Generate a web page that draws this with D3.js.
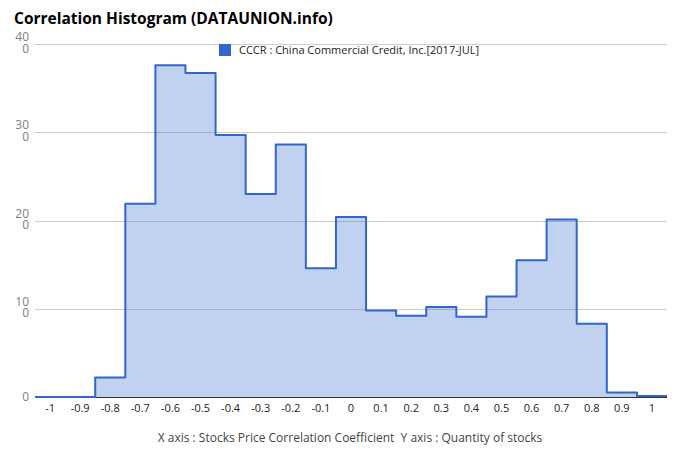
<!DOCTYPE html>
<html>
<head>
<meta charset="utf-8">
<script src="https://cdn.jsdelivr.net/npm/d3@7/dist/d3.min.js"></script>
<style>
  html, body { margin: 0; padding: 0; background: #fff; }
  svg { display: block; font-family: "Open Sans", "Noto Sans", sans-serif; }
</style>
</head>
<body>
<svg id="chart" width="680" height="462"></svg>
<script>
const bins = [-1, -0.9, -0.8, -0.7, -0.6, -0.5, -0.4, -0.3, -0.2, -0.1, 0, 0.1, 0.2, 0.3, 0.4, 0.5, 0.6, 0.7, 0.8, 0.9, 1];
const counts = [0, 0, 22, 219, 376, 367, 297, 230, 286, 146, 204, 98, 92, 102, 91, 114, 155, 201, 83, 5, 1];
const xTickLabels = ["-1", "-0.9", "-0.8", "-0.7", "-0.6", "-0.5", "-0.4", "-0.3", "-0.2", "-0.1", "0", "0.1", "0.2", "0.3", "0.4", "0.5", "0.6", "0.7", "0.8", "0.9", "1"];
const yTicks = [0, 100, 200, 300, 400];
const seriesName = "CCCR : China Commercial Credit, Inc.[2017-JUL]";
const titleText = "Correlation Histogram (DATAUNION.info)";
const captionText = "X axis : Stocks Price Correlation Coefficient  Y axis : Quantity of stocks";

const svg = d3.select("#chart");
const pLeft = 35, pRight = 667, pTop = 44, pBottom = 397;
const x = d3.scaleLinear().domain([-1.05, 1.05]).range([pLeft, pRight]);
const y = d3.scaleLinear().domain([0, 400]).range([pBottom, pTop]);

// title
svg.append("text").attr("x", 14).attr("y", 24)
  .attr("font-size", 15.5).attr("font-weight", "bold").attr("fill", "#000")
  .text(titleText);

// gridlines
svg.append("g").selectAll("line").data(yTicks.filter(d => d > 0)).join("line")
  .attr("x1", pLeft).attr("x2", pRight)
  .attr("y1", d => Math.round(y(d)) + 0.5).attr("y2", d => Math.round(y(d)) + 0.5)
  .attr("stroke", "#cccccc").attr("stroke-width", 1);

// y labels (wrapped like the reference)
const yl = svg.append("g").attr("font-size", 12).attr("fill", "#808080").attr("text-anchor", "end");
yTicks.forEach(t => {
  const s = String(t);
  if (s.length > 2) {
    yl.append("text").attr("x", 29).attr("y", y(t) - 3).text(s.slice(0, 2));
    yl.append("text").attr("x", 29).attr("y", y(t) + 8.5).text(s.slice(2));
  } else {
    yl.append("text").attr("x", 29).attr("y", y(t) + 4).text(s);
  }
});

// step data
const stepData = bins.map((b, i) => ({ x: b - 0.05, v: counts[i] }));
stepData.push({ x: 1.05, v: counts[counts.length - 1] });

const area = d3.area().x(d => x(d.x)).y0(y(0)).y1(d => y(d.v)).curve(d3.curveStepAfter);
const line = d3.line().x(d => x(d.x)).y(d => y(d.v)).curve(d3.curveStepAfter);

// axis baseline
svg.append("line").attr("x1", pLeft).attr("x2", pRight).attr("y1", pBottom + 0.5).attr("y2", pBottom + 0.5)
  .attr("stroke", "#333").attr("stroke-width", 1);

svg.append("path").datum(stepData).attr("d", area).attr("fill", "#3366cc").attr("fill-opacity", 0.3);
svg.append("path").datum(stepData).attr("d", line).attr("fill", "none")
  .attr("stroke", "#3366cc").attr("stroke-width", 2).attr("stroke-linejoin", "round");

// x labels
svg.append("g").attr("font-size", 11).attr("fill", "#222").attr("text-anchor", "middle")
  .selectAll("text").data(bins).join("text")
  .attr("x", d => x(d)).attr("y", 412)
  .text((d, i) => xTickLabels[i]);

// legend
svg.append("rect").attr("x", 219).attr("y", 44).attr("width", 12).attr("height", 12).attr("fill", "#3366cc");
svg.append("text").attr("x", 239).attr("y", 54).attr("font-size", 11).attr("fill", "#222").text(seriesName);

// caption
svg.append("text").attr("x", 350).attr("y", 442).attr("text-anchor", "middle")
  .attr("font-size", 12).attr("fill", "#444").style("white-space", "pre").text(captionText);
</script>
</body>
</html>
